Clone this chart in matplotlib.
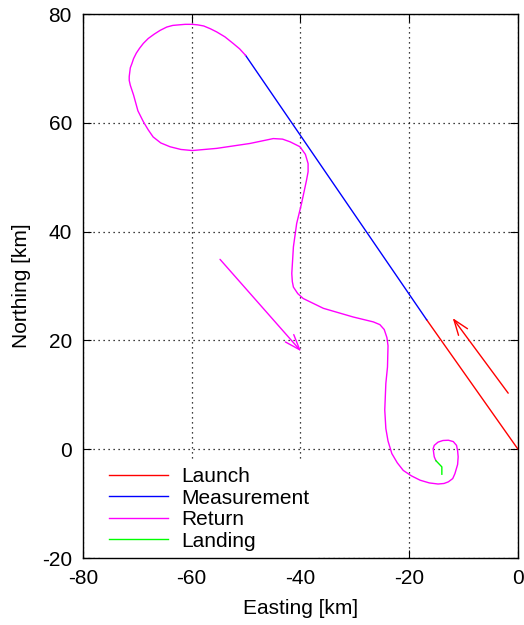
import matplotlib.pyplot as plt

plt.rcParams['font.family'] = ['Liberation Sans', 'DejaVu Sans']
plt.rcParams['axes.unicode_minus'] = False

# track pieces, easting/northing in km
launch_x = [0.0, -16.8]
launch_y = [0.0, 23.8]

meas_x = [-16.8, -50.1]
meas_y = [23.8, 72.4]

ret_x = [-50.1, -51.2, -52.4, -53.9, -55.4, -56.6, -57.8, -58.9, -59.9, -61.2,
         -62.4, -63.5, -64.6, -65.8, -66.9, -68.0, -68.9, -69.6, -70.2, -70.7,
         -71.0, -71.3, -71.4, -71.5, -71.5, -71.3, -71.0, -70.7, -69.9, -68.9,
         -68.0, -67.1, -65.7, -64.0, -62.0, -59.9, -55.4, -49.3, -45.0, -43.3,
         -41.9, -40.1, -39.1, -38.6, -38.6, -38.9, -39.8, -40.7, -41.3, -41.6,
         -41.5, -41.3, -40.5, -39.5, -35.8, -30.3, -26.6, -25.4, -24.6, -24.1,
         -23.9, -24.0, -24.3, -24.5, -24.3, -23.9, -23.2, -22.2, -21.1, -19.6,
         -18.0, -16.3, -14.7, -13.6, -12.8, -12.0, -11.6, -11.1, -11.0, -11.1,
         -11.3, -11.9, -12.8, -13.8, -14.7, -15.4, -15.6, -15.5, -15.4, -15.1]
ret_y = [72.4, 73.6, 74.6, 75.8, 76.7, 77.3, 77.8, 78.0, 78.1, 78.1,
         78.0, 77.9, 77.6, 77.0, 76.3, 75.5, 74.6, 73.7, 72.8, 71.8,
         70.9, 70.1, 69.3, 68.5, 67.8, 66.9, 66.0, 65.1, 62.2, 60.2,
         58.7, 57.4, 56.3, 55.6, 55.1, 54.9, 55.3, 56.2, 57.1, 57.0,
         56.5, 55.6, 54.2, 52.5, 51.0, 49.4, 45.2, 41.5, 37.2, 32.3,
         30.8, 29.8, 28.6, 27.7, 25.9, 24.3, 23.4, 22.9, 22.0, 20.5,
         19.0, 15.1, 12.1, 7.2, 3.8, 1.5, -0.8, -2.5, -3.9, -4.9,
         -5.7, -6.2, -6.4, -6.3, -6.0, -5.4, -4.5, -2.8, -1.4, -0.3,
         0.7, 1.4, 1.65, 1.6, 1.3, 0.7, 0.1, -0.7, -1.4, -2.1]

land_x = [-15.1, -14.0, -14.0]
land_y = [-2.1, -3.25, -4.6]

# direction arrows (start, end)
red_arrow = [(-1.8, 10.3), (-12.0, 24.1)]
mag_arrow = [(-54.8, 34.9), (-39.9, 18.0)]

fig = plt.figure(figsize=(5.24, 6.25), dpi=100)
ax = fig.add_axes([0.1584, 0.1072, 0.8301, 0.8704])

ax.plot(launch_x, launch_y, color='#ff0000', lw=1.0, label='Launch')
ax.plot(meas_x, meas_y, color='#0000ff', lw=1.0, label='Measurement')
ax.plot(ret_x, ret_y, color='#ff00ff', lw=1.0, label='Return')
ax.plot(land_x, land_y, color='#00ff00', lw=1.0, label='Landing')

for (x0, y0), (x1, y1), c in [(red_arrow[0], red_arrow[1], '#ff0000'),
                              (mag_arrow[0], mag_arrow[1], '#ff00ff')]:
    ax.annotate('', xy=(x1, y1), xytext=(x0, y0),
                arrowprops=dict(arrowstyle='->,head_length=0.55,head_width=0.2',
                                color=c, lw=1.0, mutation_scale=20,
                                shrinkA=0, shrinkB=0))

ax.set_xlim(-80, 0)
ax.set_ylim(-20, 80)
ax.set_xticks([-80, -60, -40, -20, 0])
ax.set_yticks([-20, 0, 20, 40, 60, 80])
ax.grid(True, color='black', linestyle=(0, (1, 3)), lw=0.9)
ax.tick_params(direction='in', length=6, top=True, right=True, labelsize=15)
ax.tick_params(axis='x', pad=8)
ax.tick_params(axis='y', pad=8)
for s in ax.spines.values():
    s.set_linewidth(1.0)

ax.set_xlabel('Easting [km]', fontsize=15, labelpad=8)
ax.set_ylabel('Northing [km]', fontsize=15, labelpad=8)

leg = ax.legend(loc='lower left', fontsize=15, handlelength=2.8, handletextpad=0.67,
                labelspacing=0.12, borderaxespad=0.0, borderpad=0.35, frameon=True,
                fancybox=False, bbox_to_anchor=(0.044, 0.0))
leg.get_frame().set_facecolor('white')
leg.get_frame().set_edgecolor('none')
leg.get_frame().set_alpha(1.0)
leg.set_zorder(2.2)  # keep the frame under the spines

fig.savefig('out.png', dpi=100)
